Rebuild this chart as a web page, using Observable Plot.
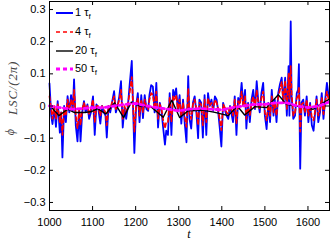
<!DOCTYPE html>
<html><head><meta charset="utf-8">
<script src="https://cdn.jsdelivr.net/npm/d3@7"></script>
<script src="https://cdn.jsdelivr.net/npm/@observablehq/plot@0.6"></script>
<style>body{margin:0;background:#fff}</style>
</head><body><div id="chart"></div>
<script>
const times = [1000,1004,1007,1011,1015,1019,1024,1027,1030,1034,1038,1042,1046,1050,1054,1057,1061,1065,1069,1072,1076,1080,1084,1088,1092,1096,1101,1105,1109,1113,1118,1122,1126,1130,1133,1137,1141,1145,1150,1154,1158,1162,1166,1170,1174,1178,1182,1186,1191,1197,1201,1205,1209,1213,1217,1221,1225,1229,1232,1236,1240,1244,1248,1252,1256,1260,1264,1268,1271,1275,1279,1283,1287,1290,1294,1298,1302,1306,1310,1314,1318,1322,1325,1329,1333,1337,1341,1345,1348,1352,1356,1360,1364,1368,1372,1376,1380,1384,1388,1391,1395,1399,1403,1407,1411,1415,1419,1422,1426,1430,1434,1438,1442,1446,1450,1454,1457,1461,1465,1469,1473,1477,1481,1485,1488,1492,1496,1500,1504,1508,1512,1516,1520,1523,1527,1531,1535,1539,1543,1547,1551,1555,1557,1560,1562,1566,1570,1574,1577,1579,1582,1585,1589,1593,1597,1601,1605,1609,1613,1616,1620,1624,1628,1632,1636,1640,1644,1648];
const tau1 = [0.07,-0.03,-0.056,-0.005,-0.065,0.015,-0.083,-0.02,-0.16,0.0,-0.05,0.031,-0.02,0.034,-0.015,0.083,-0.06,-0.11,-0.01,-0.11,-0.02,0.015,-0.02,0.005,-0.04,-0.02,0.03,-0.09,0.005,-0.005,-0.055,0.0,-0.02,-0.03,-0.098,0.0,-0.02,0.01,0.046,-0.02,0.0,0.03,0.077,-0.067,-0.005,-0.04,0.0,0.065,0.14,-0.146,0.0,0.04,-0.05,0.034,-0.038,0.034,-0.01,-0.015,0.034,0.065,0.06,-0.02,0.072,-0.067,0.01,-0.015,-0.07,-0.12,-0.077,-0.09,0.04,-0.09,0.05,0.03,0.055,-0.015,0.034,-0.055,0.02,-0.055,-0.113,0.093,-0.04,-0.07,0.01,0.03,-0.02,-0.1,0.02,0.01,-0.098,0.034,-0.09,0.04,0.0,0.02,-0.015,0.03,0.02,-0.01,-0.065,-0.126,0.01,-0.01,-0.03,-0.04,0.0,-0.02,-0.05,0.03,-0.09,0.025,0.01,0.072,0.0,0.05,-0.07,0.01,-0.05,0.02,0.05,-0.01,0.077,0.01,-0.02,0.041,0.072,-0.03,-0.072,0.01,-0.05,0.05,-0.03,0.02,-0.05,0.04,0.068,0.088,0.01,0.088,-0.03,0.124,-0.03,0.263,0.03,-0.04,-0.03,0.04,0.05,0.13,-0.195,0.01,0.02,-0.03,0.03,-0.05,0.01,-0.06,-0.077,-0.03,0.03,-0.05,-0.02,0.04,-0.04,0.02,0.072,0.03];
const tau4 = [0.03,-0.01,-0.04,0.0,-0.04,0.005,-0.05,-0.02,-0.09,-0.01,-0.03,0.02,-0.01,0.02,-0.01,0.05,-0.03,-0.07,-0.01,-0.06,-0.01,0.01,-0.01,0.0,-0.025,-0.01,0.02,-0.05,0.0,0.0,-0.03,0.0,-0.01,-0.02,-0.06,0.0,-0.01,0.01,0.03,-0.01,0.0,0.02,0.05,-0.04,0.0,-0.02,0.005,0.04,0.09,-0.08,0.0,0.025,-0.03,0.02,-0.02,0.02,-0.005,-0.01,0.02,0.04,0.035,-0.01,0.045,-0.04,0.005,-0.01,-0.045,-0.07,-0.05,-0.05,0.025,-0.05,0.03,0.02,0.035,-0.01,0.02,-0.035,0.01,-0.035,-0.065,0.055,-0.02,-0.04,0.005,0.02,-0.01,-0.06,0.01,0.005,-0.06,0.02,-0.05,0.025,0.0,0.01,-0.01,0.02,0.01,-0.005,-0.04,-0.075,0.005,-0.005,-0.02,-0.025,0.0,-0.01,-0.03,0.02,-0.055,0.015,0.005,0.045,0.0,0.03,-0.04,0.005,-0.03,0.01,0.03,-0.005,0.05,0.005,-0.01,0.025,0.045,-0.02,-0.045,0.005,-0.03,0.03,-0.02,0.01,-0.03,0.03,0.05,0.075,0.01,0.08,-0.01,0.1,0.02,0.124,0.04,-0.03,-0.02,0.025,0.03,0.06,-0.08,0.005,0.01,-0.02,0.02,-0.03,0.005,-0.035,-0.045,-0.02,0.02,-0.03,-0.01,0.025,-0.025,0.01,0.045,0.02];
const t20 = [1000,1005,1022,1042,1057,1080,1096,1112,1131,1151,1158,1172,1190,1210,1236,1264,1284,1302,1322,1356,1384,1415,1436,1453,1477,1504,1531,1550,1581,1612,1626,1648];
const tau20 = [0.0,-0.005,-0.03,-0.01,-0.02,-0.02,-0.018,-0.008,-0.025,0.01,-0.005,-0.036,0.012,0.0,-0.003,-0.035,0.018,-0.036,-0.015,-0.013,-0.02,-0.03,0.0,-0.028,-0.002,-0.005,0.035,0.005,-0.002,-0.01,0.003,0.02];
const t50 = [1000,1025,1050,1075,1100,1125,1150,1175,1200,1225,1250,1275,1300,1325,1350,1375,1400,1425,1450,1475,1500,1525,1550,1575,1600,1625,1648];
const tau50 = [0.0,-0.005,-0.01,-0.008,-0.005,-0.005,0.0,0.005,0.008,0.0,-0.005,-0.01,-0.015,-0.01,-0.008,-0.01,-0.012,-0.005,0.0,0.005,0.005,0.01,0.01,0.0,-0.005,0.0,0.012];
const xTicks = [1000,1100,1200,1300,1400,1500,1600];
const yTicks = [-0.3,-0.2,-0.1,0,0.1,0.2,0.3];
const legendLabels = ["1", "4", "20", "50"];

const font = "'Liberation Sans', Arial, sans-serif";
const W = 332, H = 250, mL = 49, mR = 3, mT = 1, mB = 40;
const pw = W - mL - mR, ph = H - mT - mB;

const s1 = times.map((t, i) => ({t, v: tau1[i]}));
const s4 = times.map((t, i) => ({t, v: tau4[i]}));
const s20 = t20.map((t, i) => ({t, v: tau20[i]}));
const s50 = t50.map((t, i) => ({t, v: tau50[i]}));

const fmtY = d => d === 0 ? "0" : d3.format(".1f")(d).replace("-", "\u2212");

const svg = Plot.plot({
  width: W, height: H,
  marginLeft: mL, marginRight: mR, marginTop: mT, marginBottom: mB,
  style: {fontFamily: font, fontSize: "11px", background: "#fff", color: "#000"},
  x: {domain: [1000, 1650]},
  y: {domain: [-0.325, 0.325]},
  marks: [
    Plot.line(s1, {x: "t", y: "v", stroke: "#0000ff", strokeWidth: 1.8}),
    Plot.line(s4, {x: "t", y: "v", stroke: "#ff0000", strokeWidth: 1.7, strokeDasharray: "4,3"}),
    Plot.line(s20, {x: "t", y: "v", stroke: "#000", strokeWidth: 1.4}),
    Plot.line(s50, {x: "t", y: "v", stroke: "#ff00ff", strokeWidth: 2.8, strokeDasharray: "4,3"}),
    Plot.tickX(xTicks, {x: d => d, insetTop: ph - 4, stroke: "#000"}),
    Plot.tickX(xTicks, {x: d => d, insetBottom: ph - 4, stroke: "#000"}),
    Plot.tickY(yTicks, {y: d => d, insetRight: pw - 4, stroke: "#000"}),
    Plot.tickY(yTicks, {y: d => d, insetLeft: pw - 4, stroke: "#000"}),
    Plot.axisX({ticks: xTicks, tickSize: 0, tickPadding: 8, tickFormat: d => String(d), label: null, fontSize: 11}),
    Plot.axisY({ticks: yTicks, tickSize: 0, tickPadding: 4, tickFormat: fmtY, label: null, fontSize: 11}),
    Plot.frame({stroke: "#000", strokeWidth: 1})
  ]
});

const sel = d3.select(svg);
// axis labels
const yl = sel.append("text")
  .attr("transform", "translate(15,98) rotate(-90)")
  .attr("text-anchor", "middle")
  .attr("font-family", "'Liberation Serif', 'DejaVu Serif', serif")
  .attr("font-style", "italic")
  .attr("font-size", 12)
  .attr("fill", "#444");
yl.append("tspan").attr("dy", -1).text("\u03d5");
yl.append("tspan").attr("dx", 14).attr("dy", 3).attr("font-size", 13).attr("letter-spacing", 0.8).text("LSC/(2\u03c0)");
sel.append("text")
  .attr("x", mL + pw / 2).attr("y", 238)
  .attr("text-anchor", "middle")
  .attr("font-family", "'Liberation Serif', 'DejaVu Serif', serif")
  .attr("font-style", "italic").attr("font-size", 12).attr("fill", "#000").text("t");

// legend
const lg = sel.append("g").attr("font-family", font).attr("font-size", 11).attr("text-anchor", "start");
const styles = [
  {c: "#0000ff", w: 2, d: null},
  {c: "#ff0000", w: 1.7, d: "4,3"},
  {c: "#000", w: 1.4, d: null},
  {c: "#ff00ff", w: 2.8, d: "4,3"}
];
const ly = [13, 32, 51, 69];
legendLabels.forEach((lab, i) => {
  const st = styles[i];
  lg.append("line").attr("x1", 56).attr("x2", 73).attr("y1", ly[i]).attr("y2", ly[i])
    .attr("stroke", st.c).attr("stroke-width", st.w).attr("stroke-dasharray", st.d);
  const tx = lg.append("text").attr("x", 75).attr("y", ly[i] + 3).attr("fill", "#000").attr("text-anchor", "start");
  tx.append("tspan").text(lab + " \u03c4");
  tx.append("tspan").attr("dy", 3).attr("font-size", 8).text("f");
});

document.getElementById("chart").appendChild(svg);
</script>
</body></html>
